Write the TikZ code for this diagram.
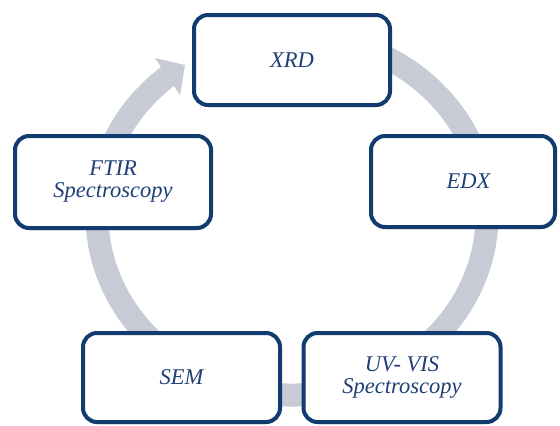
\documentclass[tikz,border=0pt]{standalone}
\usepackage{fontspec}
\setmainfont{Liberation Serif}
\newfontfamily\stagefont{Liberation Serif}[ItalicFont={Liberation Serif Italic}]
\usetikzlibrary{shadows}
\definecolor{ringgray}{RGB}{199,203,214}
\definecolor{boxblue}{RGB}{18,60,112}
\definecolor{textblue}{RGB}{30,64,118}
\begin{document}
\begin{tikzpicture}[x=1pt,y=-1pt,
  stage/.style={draw=boxblue, line width=4pt, rounded corners=14pt, fill=white,
    align=center, font=\stagefont\fontsize{22.5}{22}\selectfont\itshape, text=textblue,
    inner sep=0pt,
    drop shadow={shadow xshift=0.5pt, shadow yshift=-2pt, opacity=0.25, fill=black}},
  ring/.style={draw=ringgray, line width=23pt},
  ringhead/.style={fill=ringgray, draw=none}]
\useasboundingbox (0,0) rectangle (560,426);
% circular arrow behind the boxes
\coordinate (c) at (292,215);
\draw[ring] (c) ++(70:195pt and 180pt)
  arc[start angle=70, end angle=-231, x radius=195pt, y radius=180pt];
\coordinate (hb1) at (155,58);
\coordinate (htip) at (185,65);
\coordinate (hb2) at (180,95);
\fill[ringhead] (hb1) -- (htip) -- (hb2) -- cycle;
% boxes
\node[stage, minimum width=196pt, minimum height=90pt] (xrd) at (292,60) {XRD};
\node[stage, minimum width=184pt, minimum height=91pt] (edx) at (463,181.5) {\hspace*{11pt}EDX};
\node[stage, minimum width=197pt, minimum height=89pt] (uv) at (402,377.5) {UV- VIS\\Spectroscopy};
\node[stage, minimum width=197pt, minimum height=89pt] (sem) at (181.5,377.5) {SEM};
\node[stage, minimum width=196pt, minimum height=92pt] (ftir) at (113,182) {FTIR\\Spectroscopy};
\end{tikzpicture}
\end{document}
